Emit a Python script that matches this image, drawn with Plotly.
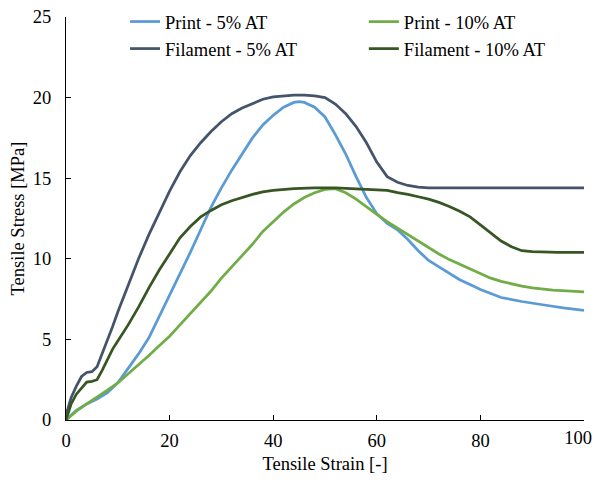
import plotly.graph_objects as go

# Print - 5% AT
p5_x = [0, 2, 4, 6, 8, 10, 12, 14, 16, 18, 20, 22, 24, 26, 28, 30, 32, 34, 36, 38, 40, 42, 44, 45, 46, 48, 50, 52, 54, 56, 58, 60, 62, 64, 66, 68, 70, 72, 74, 76, 78, 80, 84, 88, 92, 96, 100]
p5_y = [0, 0.6, 1.0, 1.3, 1.7, 2.3, 3.2, 4.1, 5.1, 6.4, 7.8, 9.0, 10.4, 11.8, 13.2, 14.4, 15.5, 16.5, 17.5, 18.3, 18.9, 19.4, 19.7, 19.75, 19.7, 19.4, 18.8, 17.7, 16.5, 15.1, 13.8, 12.8, 12.2, 11.8, 11.2, 10.5, 9.9, 9.5, 9.1, 8.7, 8.4, 8.1, 7.6, 7.35, 7.15, 6.95, 6.8]

# Print - 10% AT
p10_x = [0, 2, 4, 6, 8, 10, 12, 14, 16, 18, 20, 22, 24, 26, 28, 30, 32, 34, 36, 38, 40, 42, 44, 46, 48, 50, 52, 54, 56, 58, 60, 62, 64, 66, 68, 70, 72, 74, 76, 78, 80, 82, 84, 86, 88, 90, 94, 100]
p10_y = [0, 0.55, 1.0, 1.4, 1.85, 2.3, 2.85, 3.4, 4.0, 4.6, 5.2, 5.9, 6.6, 7.3, 8.0, 8.8, 9.5, 10.2, 10.9, 11.7, 12.3, 12.9, 13.4, 13.8, 14.1, 14.3, 14.35, 14.1, 13.7, 13.2, 12.75, 12.3, 11.9, 11.5, 11.1, 10.65, 10.3, 9.95, 9.65, 9.35, 9.05, 8.8, 8.6, 8.45, 8.3, 8.2, 8.05, 7.95]

# Filament - 5% AT
f5_x = [0, 0.5, 1, 2, 3, 4, 5, 6, 7, 8, 9, 10, 12, 14, 16, 18, 20, 22, 24, 26, 28, 30, 32, 34, 36, 38, 40, 42, 44, 46, 48, 50, 52, 54, 56, 58, 60, 62, 64, 66, 68, 70, 75, 80, 85, 90, 95, 100]
f5_y = [0.3, 0.9, 1.4, 2.1, 2.7, 2.95, 3.0, 3.3, 4.1, 5.0, 5.8, 6.7, 8.4, 10.0, 11.5, 12.9, 14.2, 15.4, 16.4, 17.2, 17.9, 18.5, 19.0, 19.35, 19.65, 19.9, 20.05, 20.1, 20.15, 20.15, 20.1, 20.0, 19.6, 19.0, 18.2, 17.2, 16.0, 15.1, 14.75, 14.55, 14.45, 14.4, 14.4, 14.4, 14.4, 14.4, 14.4, 14.4]

# Filament - 10% AT
f10_x = [0, 1, 2, 3, 4, 5, 6, 7, 8, 9, 10, 12, 14, 16, 18, 20, 22, 24, 26, 28, 30, 32, 34, 36, 38, 40, 44, 48, 52, 56, 60, 62, 64, 66, 68, 70, 72, 74, 76, 78, 80, 82, 84, 86, 88, 90, 95, 100]
f10_y = [0, 1.0, 1.6, 2.0, 2.35, 2.4, 2.5, 3.1, 3.8, 4.4, 4.9, 5.9, 7.0, 8.2, 9.3, 10.3, 11.3, 12.0, 12.6, 13.0, 13.35, 13.6, 13.8, 14.0, 14.15, 14.25, 14.35, 14.4, 14.4, 14.35, 14.3, 14.25, 14.1, 14.0, 13.85, 13.7, 13.5, 13.25, 12.95, 12.6, 12.1, 11.6, 11.1, 10.75, 10.5, 10.45, 10.4, 10.4]

x_ticks = [0, 20, 40, 60, 80, 100]
x_labels = ["0", "20", "40", "60", "80", "100"]
y_ticks = [0, 5, 10, 15, 20, 25]

FONT = "Liberation Serif, Times New Roman, serif"
FS = 18.5

fig = go.Figure()
fig.add_trace(go.Scatter(x=p5_x, y=p5_y, mode="lines", name="Print - 5% AT",
                         line=dict(color="#5B9BD5", width=2.75), legend="legend"))
fig.add_trace(go.Scatter(x=f5_x, y=f5_y, mode="lines", name="Filament - 5% AT",
                         line=dict(color="#44546A", width=2.75), legend="legend"))
fig.add_trace(go.Scatter(x=p10_x, y=p10_y, mode="lines", name="Print - 10% AT",
                         line=dict(color="#70AD47", width=2.75), legend="legend2"))
fig.add_trace(go.Scatter(x=f10_x, y=f10_y, mode="lines", name="Filament - 10% AT",
                         line=dict(color="#375623", width=2.75), legend="legend2"))
# empty trace so the overlaid label axis (x2) is created; it draws nothing
fig.add_trace(go.Scatter(x=[], y=[], xaxis="x2", yaxis="y", mode="lines",
                         showlegend=False, hoverinfo="skip"))

axis_common = dict(
    showline=True, linecolor="black", linewidth=1,
    ticks="inside", ticklen=5, tickcolor="black", tickwidth=1,
    showgrid=False, zeroline=False, automargin=False,
    ticklabeloverflow="allow",
    tickfont=dict(family=FONT, size=FS, color="black"),
)

# the page body adds an 8px offset; the figure is sized/margined to compensate
fig.update_layout(
    width=592, height=466,
    margin=dict(l=58, r=16, t=9, b=54, autoexpand=False),
    plot_bgcolor="white", paper_bgcolor="white",
    font=dict(family=FONT, size=FS, color="black"),
    xaxis=dict(range=[0, 100], tickvals=x_ticks,
               ticktext=x_labels[:-1] + [""], ticklabelstandoff=4,
               title=dict(text="Tensile Strain [-]", font=dict(family=FONT, size=FS, color="black"), standoff=8),
               **axis_common),
    # last x tick label drawn on an overlaid copy of the axis, nudged left so it stays in view
    xaxis2=dict(range=[0, 100], overlaying="x", anchor="y", side="bottom",
                tickvals=x_ticks[-1:], ticktext=x_labels[-1:],
                ticklabelstandoff=4, ticklabelshift=-6, ticklabeloverflow="allow",
                showline=False, ticks="", showgrid=False, zeroline=False, automargin=False,
                tickfont=dict(family=FONT, size=FS, color="black")),
    yaxis=dict(range=[0, 25], tickvals=y_ticks, ticklabelstandoff=10,
               title=dict(text="Tensile Stress [MPa]", font=dict(family=FONT, size=FS, color="black"), standoff=5),
               **axis_common),
    legend=dict(x=0.114, y=1.0347, xanchor="left", yanchor="top", bgcolor="rgba(0,0,0,0)",
                font=dict(family=FONT, size=FS, color="black"), tracegroupgap=0),
    legend2=dict(x=0.575, y=1.0347, xanchor="left", yanchor="top", bgcolor="rgba(0,0,0,0)",
                 font=dict(family=FONT, size=FS, color="black"), tracegroupgap=0),
)

fig.write_html("out.html")
